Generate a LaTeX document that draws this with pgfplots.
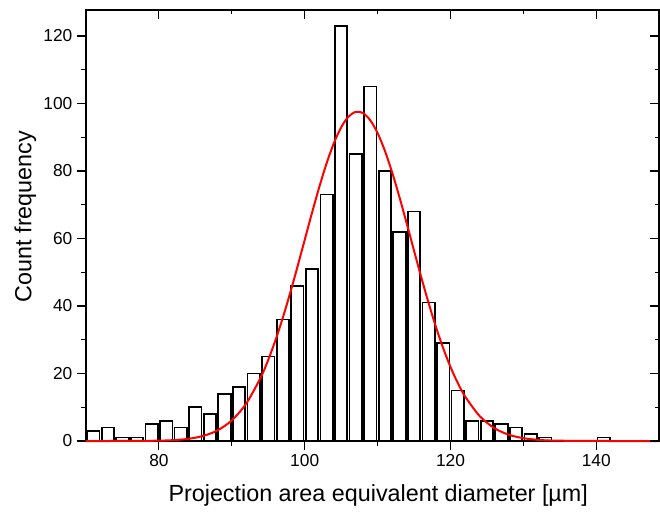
\documentclass[border=0pt]{standalone}
\usepackage{pgfplots}
\pgfplotsset{compat=1.18}
\usepackage{fontspec}
\setmainfont{Liberation Sans}
\begin{document}
\begin{tikzpicture}
\pgfplotsset{
  common/.style={
    at={(0,0)}, anchor=south west,
    scale only axis, width=429.75pt, height=323.25pt,
    xmin=70, xmax=148.6, ymin=0, ymax=127.7,
    xtick={80,100,120,140}, minor xtick={90,110,130},
    ytick={0,20,...,120}, minor ytick={10,30,...,110},
    /pgf/number format/assume math mode=true,
    tick style={black, line width=0.8pt},
  }
}
\begin{axis}[common,
  axis line style={line width=0.8pt},
  xtick pos=bottom, ytick pos=left, tick align=outside,
  major tick length=6.75pt, minor tick length=3.75pt,
  xticklabel style={font=\fontsize{13}{15}\selectfont},
  yticklabel style={font=\fontsize{13}{15}\selectfont},
  xlabel={Projection area equivalent diameter [µm]},
  ylabel={Count frequency},
  label style={font=\fontsize{17.5}{20}\selectfont},
  xlabel style={at={(axis description cs:0.51,-0.127)}, anchor=center},
  ylabel style={at={(axis description cs:-0.106,0.521)}, anchor=center},
  clip=false,
]
\addplot[ybar, bar width=1.7, bar shift=0pt, fill=white, draw=black, line width=1.3pt] table {
x y
71 3
73 4
75 1
77 1
79 5
81 6
83 4
85 10
87 8
89 14
91 16
93 20
95 25
97 36
99 46
101 51
103 73
105 123
107 85
109 105
111 80
113 62
115 68
117 41
119 29
121 15
123 6
125 6
127 5
129 4
131 2
133 1
141 1
};
\addplot[red, line width=1.5pt, smooth, mark=none] coordinates {
(70,0) (76,0.01) (80,0.10) (82,0.26) (84,0.64) (86,1.46) (88,3.10) (90,6.11)
(92,11.17) (94,18.97) (95,24.05) (96,29.93) (97,36.55) (98,43.82) (99,51.57)
(100,59.58) (101,67.59) (102,75.25) (103,82.25) (104,88.24) (105,92.94)
(106,96.09) (107,97.52) (108,97.16) (109,95.02) (110,91.23) (111,85.98)
(112,79.54) (113,72.24) (114,64.41) (115,56.37) (116,48.43) (117,40.85)
(118,33.81) (119,27.47) (120,21.92) (121,17.17) (122,13.20) (124,7.38)
(126,3.83) (128,1.85) (130,0.83) (132,0.34) (134,0.13) (138,0.02) (142,0) (148.6,0)
};
\end{axis}
\begin{axis}[common,
  axis line style={draw=none},
  xtick pos=top, ytick pos=right, tick align=inside,
  major tick length=6.75pt, minor tick length=3pt,
  xticklabels={}, yticklabels={},
]
\end{axis}
\pgfresetboundingbox
\path (-64.5pt,-54.75pt) rectangle (430.5pt,330.75pt);
\end{tikzpicture}
\end{document}
